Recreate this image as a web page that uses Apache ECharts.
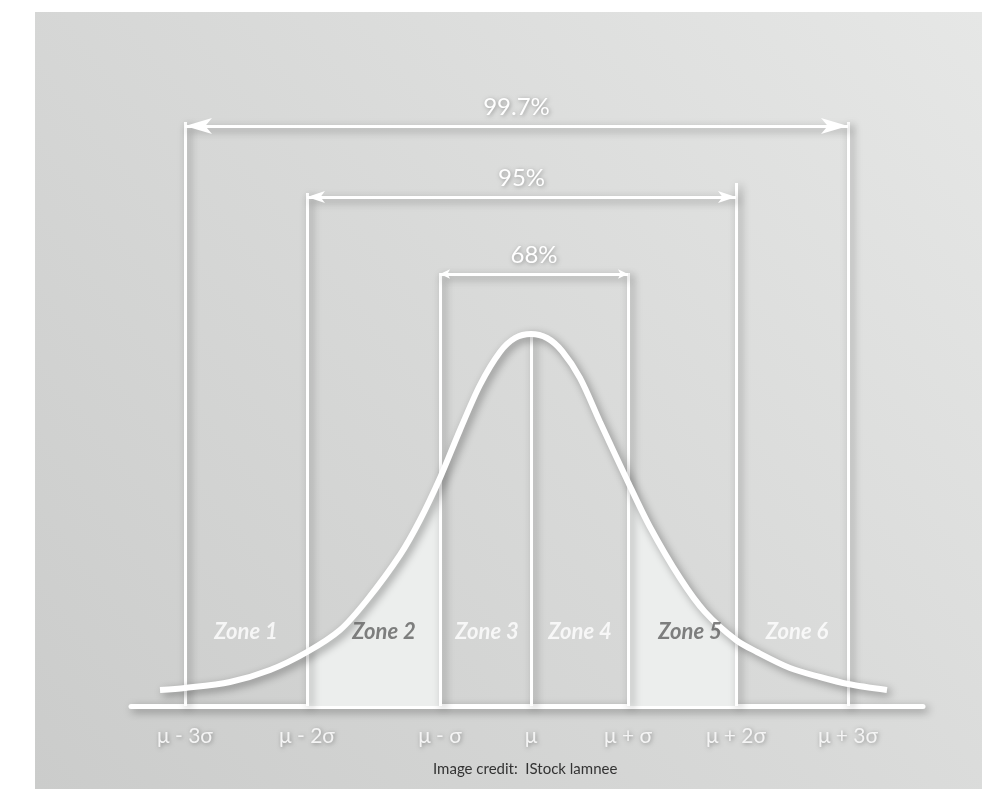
<!DOCTYPE html>
<html>
<head>
<meta charset="utf-8">
<script src="https://cdn.jsdelivr.net/npm/echarts@6/dist/echarts.min.js"></script>
<style>
html,body{margin:0;padding:0;background:#fff;}
#chart{width:993px;height:789px;}
</style>
</head>
<body>
<div id="chart"></div>
<script>
// ---- data ----
// x in sigma-like units (mean = 0), y in curve-height units
const sigmaLabels = ['μ - 3σ', 'μ - 2σ', 'μ - σ', 'μ', 'μ + σ', 'μ + 2σ', 'μ + 3σ'];
const sigmaX = [-3.46, -2.24, -0.91, 0, 0.97, 2.05, 3.17];
const lineTops = [58.4, 51.3, 43.3, 37.2, 43.3, 52.3, 58.4];

const bracketLabels = ['99.7%', '95%', '68%'];
const bracketFrom = [-3.46, -2.24, -0.91];
const bracketTo = [3.17, 2.05, 0.97];
const bracketY = [58.0, 50.9, 43.2];

const zoneNames = ['Zone 1', 'Zone 2', 'Zone 3', 'Zone 4', 'Zone 5', 'Zone 6'];
const zoneX = [-2.85, -1.47, -0.44, 0.49, 1.59, 2.66];
const zoneY = [7.4, 7.4, 7.4, 7.4, 7.4, 7.4];

const curveX = [-3.71, -3.46, -3.01, -2.61, -2.24, -1.91, -1.64, -1.31, -1.11, -0.91, -0.71, -0.51, -0.31, -0.16, 0,
                0.16, 0.31, 0.49, 0.69, 0.97, 1.19, 1.49, 1.74, 2.05, 2.26, 2.59, 2.89, 3.17, 3.56];
const curveY = [1.6, 1.8, 2.4, 3.6, 5.4, 7.6, 10.6, 15.1, 18.6, 22.8, 27.6, 32.1, 35.4, 36.8, 37.2,
                36.8, 35.5, 32.8, 28.4, 22.4, 17.9, 12.8, 9.4, 6.6, 5.4, 3.8, 2.9, 2.2, 1.6];

const shadedZones = [[-2.24, -0.91], [0.97, 2.05]];

// ---- build ----
const curve = curveX.map((x, i) => [x, curveY[i]]);
const shadow = {shadowColor: 'rgba(0,0,0,0.38)', shadowBlur: 8, shadowOffsetX: 3, shadowOffsetY: 3};
const textShadow = {textShadowColor: 'rgba(0,0,0,0.35)', textShadowBlur: 4, textShadowOffsetX: 1, textShadowOffsetY: 1};

const series = [];

shadedZones.forEach((z) => {
  series.push({
    type: 'line', silent: true, symbol: 'none', smooth: 0.3, z: 1,
    data: curve.filter(p => p[0] >= z[0] - 1e-9 && p[0] <= z[1] + 1e-9),
    lineStyle: {width: 0},
    areaStyle: {color: '#eceeed', opacity: 1}
  });
});

series.push({
  type: 'line', silent: true, symbol: 'none', smooth: 0.3, z: 5,
  data: [],
  markLine: {
    silent: true, symbol: ['none', 'none'], animation: false,
    lineStyle: Object.assign({color: '#ffffff', width: 3, type: 'solid'}, shadow),
    label: {show: false},
    data: sigmaX.map((x, i) => [{coord: [x, 0]}, {coord: [x, lineTops[i]]}])
  }
});

const arrowSizes = [[12, 27], [9, 18], [7, 10]];
bracketLabels.forEach((lab, i) => {
  series.push({
    type: 'line', silent: true, symbol: 'none', z: 6, data: [],
    markLine: {
      silent: true, animation: false,
      symbol: ['arrow', 'arrow'], symbolSize: arrowSizes[i],
      lineStyle: Object.assign({color: '#ffffff', width: 3, type: 'solid'}, shadow),
      label: Object.assign({
        show: true, position: 'middle', distance: 7, formatter: lab,
        color: '#ffffff', fontSize: 24, fontFamily: 'Lato'
      }, textShadow),
      data: [[{coord: [bracketFrom[i], bracketY[i]]}, {coord: [bracketTo[i], bracketY[i]]}]]
    }
  });
});

series.push({
  type: 'line', silent: true, symbol: 'none', smooth: 0.3, z: 8,
  data: curve,
  lineStyle: Object.assign({color: '#ffffff', width: 6}, shadow)
});

series.push({
  type: 'scatter', silent: true, symbolSize: 0, z: 9,
  data: zoneNames.map((n, i) => ({
    value: [zoneX[i], zoneY[i]], name: n,
    label: {color: (i === 1 || i === 4) ? '#616262' : '#ffffff'}
  })),
  label: {
    show: true, position: 'inside', formatter: p => p.name,
    fontSize: 22, fontStyle: 'italic', fontWeight: 'bold', fontFamily: 'Lato'
  }
});

const chart = echarts.init(document.getElementById('chart'), null, {renderer: 'canvas'});
chart.setOption({
  animation: false,
  backgroundColor: '#ffffff',
  graphic: [{
    type: 'rect', z: -10, silent: true,
    shape: {x: 35, y: 12, width: 947, height: 777},
    style: {fill: new echarts.graphic.LinearGradient(1, 0, 0, 1, [
      {offset: 0, color: '#e6e7e6'},
      {offset: 0.5, color: '#d8d9d8'},
      {offset: 1, color: '#cbcccb'}
    ])}
  }, {
    type: 'text', z: 10, silent: true, left: 433, top: 762,
    style: {text: 'Image credit:  IStock lamnee', fill: '#333333', fontSize: 15, fontFamily: 'Lato'}
  }],
  grid: {left: 131, right: 70, top: 106, bottom: 83, containLabel: false},
  xAxis: {
    type: 'value', min: -4, max: 3.92,
    axisLine: {show: true, onZero: false, lineStyle: Object.assign({color: '#ffffff', width: 5}, shadow)},
    axisTick: {show: false},
    splitLine: {show: false},
    axisLabel: Object.assign({
      customValues: sigmaX,
      formatter: v => { const i = sigmaX.findIndex(s => Math.abs(s - v) < 1e-6); return i >= 0 ? sigmaLabels[i] : ''; },
      color: '#f4f4f4', fontSize: 21, fontFamily: 'Lato', margin: 20
    }, textShadow)
  },
  yAxis: {type: 'value', min: 0, max: 60, show: false, splitLine: {show: false}},
  series: series
});
</script>
</body>
</html>
